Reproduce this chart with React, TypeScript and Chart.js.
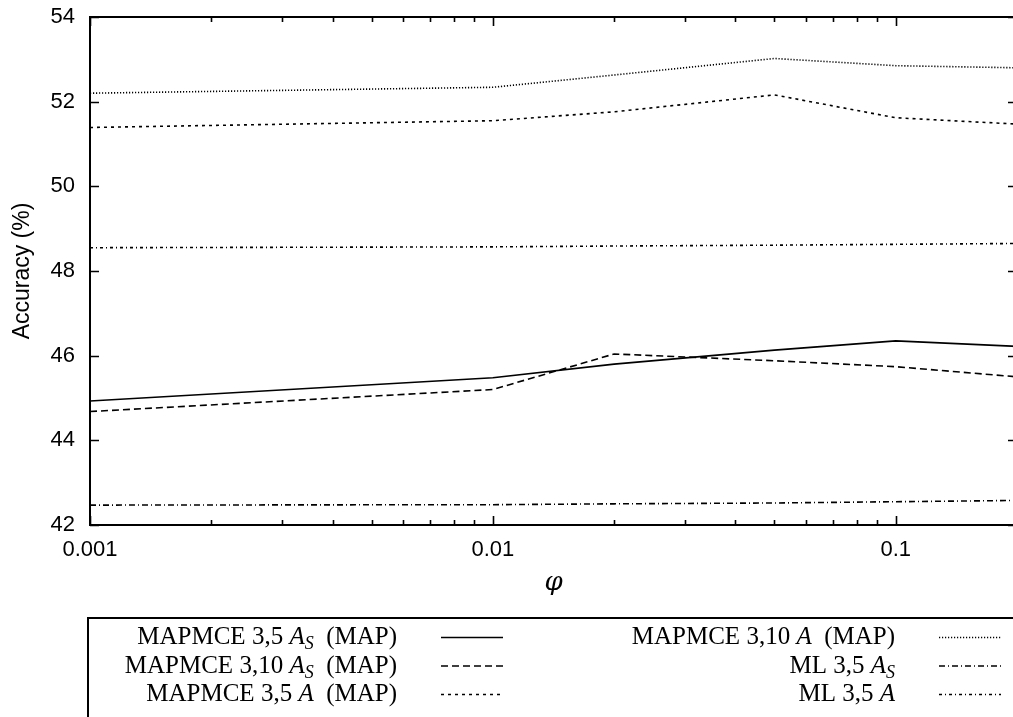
import React, { useEffect, useRef } from "react";
import { Chart, registerables } from "chart.js";
Chart.register(...registerables);

// ---- data ----
const phiValues = [0.001, 0.01, 0.02, 0.05, 0.1, 0.2];
const mapmce35AS = [44.93, 45.48, 45.8, 46.13, 46.35, 46.22];
const mapmce310AS = [44.68, 45.2, 46.04, 45.88, 45.74, 45.5];
const mapmce35A = [51.39, 51.55, 51.76, 52.16, 51.62, 51.47];
const mapmce310A = [52.2, 52.34, 52.63, 53.02, 52.85, 52.8];
const ml35AS = [42.47, 42.48, 42.5, 42.52, 42.55, 42.58];
const ml35A = [48.55, 48.57, 48.59, 48.61, 48.63, 48.65];

const seriesLabels = [
  "MAPMCE 3,5 A_S (MAP)",
  "MAPMCE 3,10 A_S (MAP)",
  "MAPMCE 3,5 A (MAP)",
  "MAPMCE 3,10 A (MAP)",
  "ML 3,5 A_S",
  "ML 3,5 A",
];
// rich legend text parts: r = roman, i = italic, s = italic subscript
const legendParts: [string, string][][] = [
  [["MAPMCE 3,5 ", "r"], ["A", "i"], ["S", "s"], ["  (MAP)", "r"]],
  [["MAPMCE 3,10 ", "r"], ["A", "i"], ["S", "s"], ["  (MAP)", "r"]],
  [["MAPMCE 3,5 ", "r"], ["A", "i"], ["  (MAP)", "r"]],
  [["MAPMCE 3,10 ", "r"], ["A", "i"], ["  (MAP)", "r"]],
  [["ML 3,5 ", "r"], ["A", "i"], ["S", "s"]],
  [["ML 3,5 ", "r"], ["A", "i"]],
];
const seriesDash = [[], [7, 4], [3, 4], [1.2, 1.8], [6, 3, 1, 3], [3, 3, 1, 3]];

const xMin = 0.001;
const xMax = 0.2;
const xMajorTicks = [0.001, 0.01, 0.1];
const xMajorLabels = ["0.001", "0.01", "0.1"];
const xMinorTicks = [
  0.002, 0.003, 0.004, 0.005, 0.006, 0.007, 0.008, 0.009,
  0.02, 0.03, 0.04, 0.05, 0.06, 0.07, 0.08, 0.09, 0.2,
];
const yTicks = [42, 44, 46, 48, 50, 52, 54];
const yTickLabels = ["42", "44", "46", "48", "50", "52", "54"];

const CANVAS_W = 1030;
const CANVAS_H = 717;

const frameAndLegend = {
  id: "frameAndLegend",
  afterDraw(chart: any) {
    const ctx = chart.ctx;
    const { left, right, top, bottom } = chart.chartArea;
    const xs = chart.scales.x;
    const ys = chart.scales.y;
    ctx.save();
    ctx.strokeStyle = "#000";
    ctx.lineWidth = 2;
    ctx.setLineDash([]);
    ctx.strokeRect(left, top, right - left, bottom - top);
    ctx.lineWidth = 1.6;
    ctx.beginPath();
    for (const t of xs.ticks) {
      const px = Math.round(xs.getPixelForValue(t.value)) + 0.5;
      const len = xMajorTicks.includes(t.value) ? 9 : 5;
      ctx.moveTo(px, bottom);
      ctx.lineTo(px, bottom - len);
      ctx.moveTo(px, top);
      ctx.lineTo(px, top + len);
    }
    for (const t of ys.ticks) {
      const py = Math.round(ys.getPixelForValue(t.value)) + 0.5;
      ctx.moveTo(left, py);
      ctx.lineTo(left + 9, py);
      ctx.moveTo(right, py);
      ctx.lineTo(right - 9, py);
    }
    ctx.stroke();

    // legend box
    const boxTop = 618;
    const boxLeft = 88;
    ctx.lineWidth = 2;
    ctx.strokeRect(boxLeft, boxTop, CANVAS_W + 20 - boxLeft, 200);

    const fs = 25;
    const fonts: Record<string, string> = {
      r: `${fs}px "Liberation Serif"`,
      i: `italic ${fs}px "Liberation Serif"`,
      s: `italic ${Math.round(fs * 0.7)}px "Liberation Serif"`,
    };
    const textRight = [397, 895];
    const sampleLeft = [441, 939];
    const sampleLen = 62;
    const baselines = [644, 672.5, 701];
    chart.data.datasets.forEach((ds: any, i: number) => {
      const col = i < 3 ? 0 : 1;
      const row = i % 3;
      const parts = legendParts[i];
      let total = 0;
      for (const [txt, kind] of parts) {
        ctx.font = fonts[kind];
        total += ctx.measureText(txt).width;
      }
      let x = textRight[col] - total;
      const base = baselines[row];
      ctx.fillStyle = "#000";
      ctx.textBaseline = "alphabetic";
      ctx.textAlign = "left";
      for (const [txt, kind] of parts) {
        ctx.font = fonts[kind];
        ctx.fillText(txt, x, kind === "s" ? base + 5 : base);
        x += ctx.measureText(txt).width;
      }
      const sy = base - 6.5;
      ctx.beginPath();
      ctx.lineWidth = 1.5;
      ctx.setLineDash(ds.borderDash || []);
      ctx.moveTo(sampleLeft[col], sy);
      ctx.lineTo(sampleLeft[col] + sampleLen, sy);
      ctx.stroke();
    });
    ctx.restore();
  },
};

export default function App() {
  const ref = useRef<HTMLCanvasElement | null>(null);
  useEffect(() => {
    if (!ref.current) return;
    Chart.defaults.font.family = '"Liberation Sans", Arial, sans-serif';
    Chart.defaults.color = "#000";
    const seriesValues = [mapmce35AS, mapmce310AS, mapmce35A, mapmce310A, ml35AS, ml35A];
    const chart = new Chart(ref.current, {
      type: "line",
      data: {
        datasets: seriesValues.map((vals, i) => ({
          label: seriesLabels[i],
          data: phiValues.map((x, j) => ({ x, y: vals[j] })),
          borderColor: "#000",
          borderWidth: 1.6,
          borderDash: seriesDash[i],
          pointRadius: 0,
          tension: 0,
          fill: false,
        })),
      },
      options: {
        animation: false,
        responsive: false,
        devicePixelRatio: 1,
        layout: { padding: { left: 0, top: 17, right: CANVAS_W - 1017, bottom: CANVAS_H - 525 - 85 } },
        plugins: { legend: { display: false }, tooltip: { enabled: false } },
        scales: {
          x: {
            type: "logarithmic",
            min: xMin,
            max: xMax,
            grid: { display: false, drawTicks: false },
            border: { display: false },
            afterBuildTicks: (scale: any) => {
              scale.ticks = [...xMajorTicks, ...xMinorTicks]
                .sort((a, b) => a - b)
                .map((v) => ({ value: v }));
            },
            afterFit: (scale: any) => {
              scale.height = 85;
              scale.paddingLeft = 0;
              scale.paddingRight = 0;
            },
            ticks: {
              autoSkip: false,
              maxRotation: 0,
              padding: 12,
              font: { size: 22 },
              callback: (value: any) => {
                const idx = xMajorTicks.indexOf(Number(value));
                return idx >= 0 ? xMajorLabels[idx] : "";
              },
            },
            title: {
              display: true,
              text: "φ",
              font: { family: '"DejaVu Serif", serif', style: "italic", size: 26 },
              padding: { top: 0, bottom: 11 },
            },
          },
          y: {
            type: "linear",
            min: 42,
            max: 54,
            grid: { display: false, drawTicks: false },
            border: { display: false },
            afterBuildTicks: (scale: any) => {
              scale.ticks = yTicks.map((v) => ({ value: v }));
            },
            afterFit: (scale: any) => {
              scale.width = 90;
              scale.paddingTop = 0;
              scale.paddingBottom = 0;
            },
            ticks: {
              padding: 15,
              font: { size: 22 },
              callback: (value: any) => {
                const idx = yTicks.indexOf(Number(value));
                return idx >= 0 ? yTickLabels[idx] : "";
              },
            },
            title: {
              display: true,
              text: "Accuracy (%)",
              font: { size: 23 },
              padding: { top: 9, bottom: 0 },
            },
          },
        },
      },
      plugins: [frameAndLegend],
    });
    return () => chart.destroy();
  }, []);
  return (
    <div style={{ position: "fixed", left: 0, top: 0, width: 1013, height: 717, overflow: "hidden", background: "#fff" }}>
      <canvas ref={ref} width={CANVAS_W} height={CANVAS_H} style={{ width: CANVAS_W, height: CANVAS_H, display: "block" }} />
    </div>
  );
}
